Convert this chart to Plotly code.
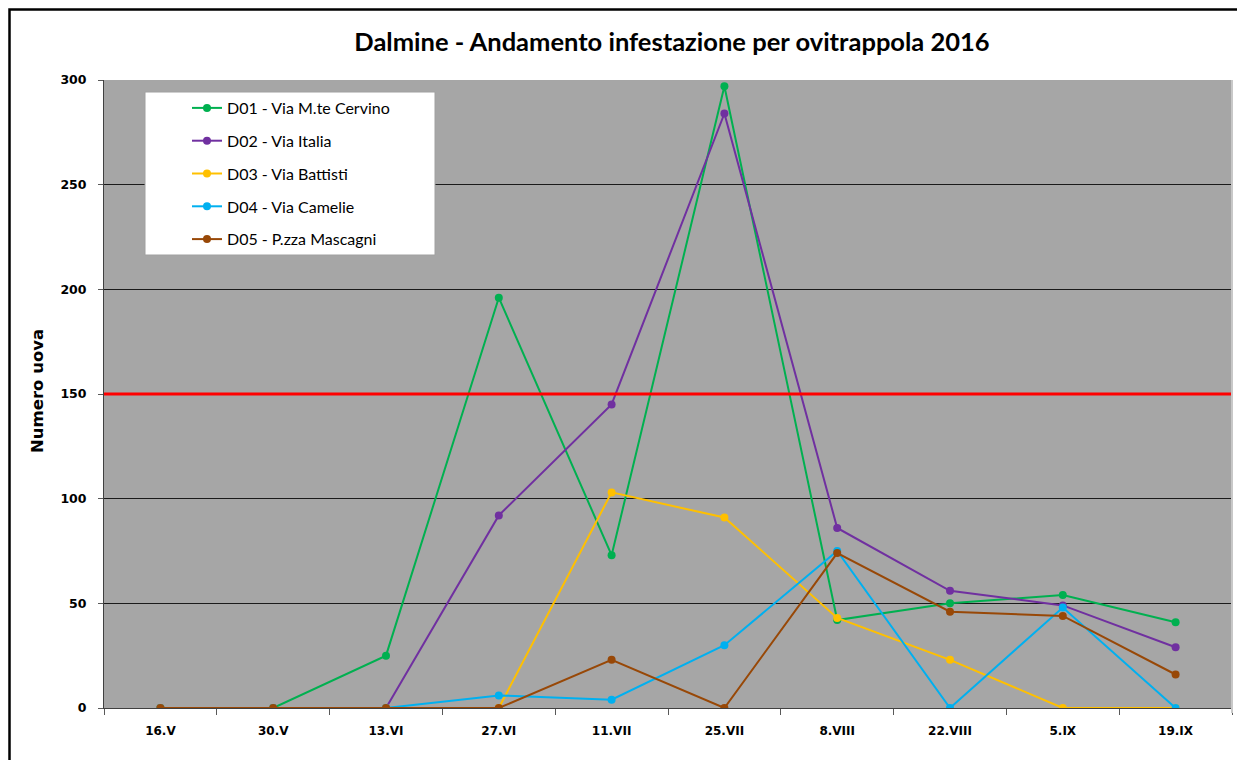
import plotly.graph_objects as go

dates = ["16.V", "30.V", "13.VI", "27.VI", "11.VII", "25.VII", "8.VIII", "22.VIII", "5.IX", "19.IX"]

d01 = [0, 0, 25, 196, 73, 297, 42, 50, 54, 41]
d02 = [0, 0, 0, 92, 145, 284, 86, 56, 49, 29]
d03 = [0, 0, 0, 0, 103, 91, 43, 23, 0, 0]
d04 = [0, 0, 0, 6, 4, 30, 75, 0, 48, 0]
d05 = [0, 0, 0, 0, 23, 0, 74, 46, 44, 16]

series_names = ["D01 - Via M.te Cervino", "D02 - Via Italia", "D03 - Via Battisti",
                "D04 - Via Camelie", "D05 - P.zza Mascagni"]
series_values = [d01, d02, d03, d04, d05]
series_colors = ["#00B050", "#7030A0", "#FFC000", "#00B0F0", "#984807"]

threshold = 150
y_ticks = [0, 50, 100, 150, 200, 250, 300]

fig = go.Figure()
for i, (name, vals, col) in enumerate(zip(series_names, series_values, series_colors)):
    fig.add_trace(go.Scatter(
        x=dates, y=vals, name=name, mode="lines+markers",
        line=dict(color=col, width=2),
        marker=dict(color=col, size=8),
        legendgroup=f"g{i}",
    ))

# page body has an 8px margin; target pixel coords are page coords
OFF = 8
W, H = 1245 - OFF, 760 - OFF
PL, PR, PT, PB = 104, 1232, 80, 708  # plot area in page pixels
L = PL - OFF
T = PT - OFF
R = W - (PR - OFF)
B = H - (PB - OFF)
pw = PR - PL
ph = PB - PT

def px(xp):
    return (xp - PL) / pw

def py(yp):
    return (PB - yp) / ph

shapes = [
    dict(type="line", xref="paper", yref="y", x0=0, x1=1, y0=threshold, y1=threshold,
         line=dict(color="#FF0000", width=3), layer="above"),
    dict(type="rect", xref="paper", yref="paper", x0=px(145), x1=px(435), y0=py(255), y1=py(92),
         fillcolor="white", line=dict(color="#A0A0A0", width=1), layer="above"),
    dict(type="line", xref="paper", yref="paper", x0=1, x1=1, y0=py(713), y1=1,
         line=dict(color="#C8C8C8", width=2)),
    dict(type="rect", xref="paper", yref="paper", x0=px(9.5), x1=px(1260), y0=py(780), y1=py(9.5),
         line=dict(color="black", width=2.5), fillcolor="rgba(0,0,0,0)"),
]

fig.update_layout(
    width=W, height=H,
    margin=dict(l=L, r=R, t=T, b=B),
    paper_bgcolor="white",
    plot_bgcolor="#A6A6A6",
    title=dict(text="<b>Dalmine - Andamento infestazione per ovitrappola 2016</b>",
               x=px(672), xref="paper", xanchor="center",
               y=1 - (42 - OFF) / H, yref="container", yanchor="middle",
               font=dict(family="Lato", size=25.5, color="black")),
    showlegend=True,
    legend=dict(x=px(187), y=py(91), xanchor="left", yanchor="top",
                bgcolor="rgba(0,0,0,0)", borderwidth=0,
                font=dict(family="Lato", size=16, color="black"),
                tracegroupgap=9, traceorder="grouped"),
    shapes=shapes,
    annotations=[dict(text="<b>Numero uova</b>", xref="paper", yref="paper",
                      x=px(38), y=py(391), textangle=-90, showarrow=False,
                      xanchor="center", yanchor="middle",
                      font=dict(family="DejaVu Sans", size=16.5, color="black"))],
    xaxis=dict(
        type="category", range=[-0.5, len(dates) - 0.5],
        tickson="boundaries", ticks="outside", ticklen=6, tickcolor="#595959",
        showgrid=False, showline=True, linecolor="#404040", linewidth=1,
        tickfont=dict(family="DejaVu Sans", size=12, color="black", weight="bold"),
        ticklabelstandoff=12, zeroline=False,
    ),
    yaxis=dict(
        range=[0, 300], tickvals=y_ticks,
        ticks="outside", ticklen=5, tickcolor="#595959",
        showgrid=True, gridcolor="#1A1A1A", gridwidth=1,
        showline=True, linecolor="#404040", linewidth=1,
        tickfont=dict(family="DejaVu Sans", size=12.5, color="black", weight="bold"),
        ticklabelstandoff=9, zeroline=False,
    ),
)

fig.write_html("out.html")
